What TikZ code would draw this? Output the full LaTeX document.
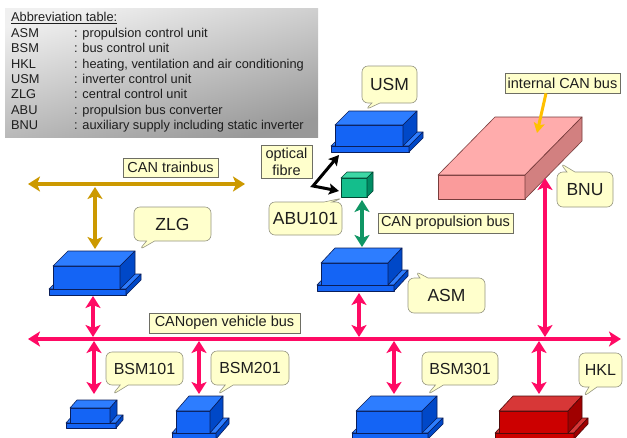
\documentclass[tikz,border=0pt]{standalone}
\usepackage{fontspec}
\setmainfont{Liberation Sans}
\usetikzlibrary{arrows.meta,shapes.callouts}

\definecolor{busPink}{RGB}{255,10,100}
\definecolor{trainGold}{RGB}{204,153,0}
\definecolor{propGreen}{RGB}{16,150,100}
\definecolor{arrowYellow}{RGB}{255,192,0}
\definecolor{noteYellow}{RGB}{255,255,204}
\definecolor{noteBorder}{RGB}{150,150,130}
\definecolor{tagBorder}{RGB}{110,110,100}
\definecolor{txt}{RGB}{30,30,30}
\definecolor{devBfront}{RGB}{20,100,245}
\definecolor{devBtop}{RGB}{45,125,255}
\definecolor{devBside}{RGB}{0,72,200}
\definecolor{devBedge}{RGB}{10,30,90}
\definecolor{devRfront}{RGB}{204,0,0}
\definecolor{devRtop}{RGB}{215,55,55}
\definecolor{devRside}{RGB}{160,0,0}
\definecolor{devRedge}{RGB}{80,10,10}
\definecolor{devGfront}{RGB}{20,190,140}
\definecolor{devGtop}{RGB}{60,215,165}
\definecolor{devGside}{RGB}{0,140,100}
\definecolor{devGedge}{RGB}{0,70,50}
\definecolor{devPfront}{RGB}{250,155,155}
\definecolor{devPtop}{RGB}{255,172,172}
\definecolor{devPside}{RGB}{210,128,128}
\definecolor{devPedge}{RGB}{120,60,60}

\tikzset{
  headtip/.tip={Stealth[length=12pt,width=15pt,inset=3pt]},
  bigarrow/.style={line width=4.5pt,headtip-headtip},
  pinkarrow/.style={bigarrow,draw=busPink},
  goldarrow/.style={bigarrow,line width=4pt,draw=trainGold},
  greenarrow/.style={bigarrow,draw=propGreen},
  fibrearrow/.style={line width=3pt,draw=black,line join=miter,
    {Stealth[length=10pt,width=11pt,inset=2pt]}-{Stealth[length=10pt,width=11pt,inset=2pt]}},
  notearrow/.style={line width=3pt,draw=arrowYellow,-{Stealth[length=10pt,width=11pt,inset=2pt]}},
  note/.style={rectangle callout,rounded corners=6pt,fill=noteYellow,draw=noteBorder,
    line width=0.6pt,inner sep=2pt,callout pointer width=8pt,text=txt},
  noteBig/.style={note,font=\fontsize{17.5pt}{20pt}\selectfont},
  noteSmall/.style={note,font=\fontsize{16pt}{19pt}\selectfont},
  tag/.style={rectangle,fill=noteYellow,draw=tagBorder,line width=0.7pt,inner sep=1pt,
    text=txt,font=\fontsize{14.5pt}{17pt}\selectfont,align=center},
  tabtext/.style={anchor=base west,inner sep=0pt,text=txt,font=\fontsize{12.8pt}{15pt}\selectfont},
  face/.style={line width=0.6pt,line join=round},
}

% x1, x2, ytop, ybottom, dx, dy, colour prefix, slab thickness
\newcommand{\devbox}[8]{%
  \filldraw[face,fill=#7top,draw=#7edge] ({#1-4},{#4}) -- ({#2+6},{#4}) -- ({#2+6+#5},{#4-#6}) -- ({#1-4+#5},{#4-#6}) -- cycle;
  \filldraw[face,fill=#7front,draw=#7edge] ({#1-4},{#4}) rectangle ({#2+6},{#4+#8});
  \filldraw[face,fill=#7side,draw=#7edge] ({#2+6},{#4}) -- ({#2+6+#5},{#4-#6}) -- ({#2+6+#5},{#4-#6+#8}) -- ({#2+6},{#4+#8}) -- cycle;
  \filldraw[face,fill=#7front,draw=#7edge] (#1,#3) rectangle (#2,#4);
  \filldraw[face,fill=#7top,draw=#7edge] (#1,#3) -- (#2,#3) -- ({#2+#5},{#3-#6}) -- ({#1+#5},{#3-#6}) -- cycle;
  \filldraw[face,fill=#7side,draw=#7edge] (#2,#3) -- ({#2+#5},{#3-#6}) -- ({#2+#5},{#4-#6}) -- (#2,#4) -- cycle;
}
% plain prism: x1, x2, ytop, ybottom, dx, dy, colour prefix
\newcommand{\devprism}[7]{%
  \filldraw[face,fill=#7front,draw=#7edge] (#1,#3) rectangle (#2,#4);
  \filldraw[face,fill=#7top,draw=#7edge] (#1,#3) -- (#2,#3) -- ({#2+#5},{#3-#6}) -- ({#1+#5},{#3-#6}) -- cycle;
  \filldraw[face,fill=#7side,draw=#7edge] (#2,#3) -- ({#2+#5},{#3-#6}) -- ({#2+#5},{#4-#6}) -- (#2,#4) -- cycle;
}

\begin{document}
\begin{tikzpicture}[x=1pt,y=-1pt]
\useasboundingbox (0,0) rectangle (627,437);
\fill[white] (0,0) rectangle (627,437);

% abbreviation table
\shade[top color=black!6,bottom color=black!40,shading angle=15] (5,8) rectangle (318,137);
\node[tabtext] (tabHead) at (11,21.5) {\underline{Abbreviation table:}};
\node[tabtext] (tabA1) at (11,37.5) {ASM};  \node[tabtext] (tabB1) at (74,37.5) {: propulsion control unit};
\node[tabtext] (tabA2) at (11,52.8) {BSM};  \node[tabtext] (tabB2) at (74,52.8) {: bus control unit};
\node[tabtext] (tabA3) at (11,68.1) {HKL};  \node[tabtext] (tabB3) at (74,68.1) {: heating, ventilation and air conditioning};
\node[tabtext] (tabA4) at (11,83.4) {USM};  \node[tabtext] (tabB4) at (74,83.4) {: inverter control unit};
\node[tabtext] (tabA5) at (11,98.7) {ZLG};  \node[tabtext] (tabB5) at (74,98.7) {: central control unit};
\node[tabtext] (tabA6) at (11,114) {ABU};   \node[tabtext] (tabB6) at (74,114) {: propulsion bus converter};
\node[tabtext] (tabA7) at (11,129.3) {BNU}; \node[tabtext] (tabB7) at (74,129.3) {: auxiliary supply including static inverter};

% devices
\devbox{335}{403}{125}{146}{14}{14}{devB}{6}   % USM
\devbox{53}{120}{266}{289}{15}{15}{devB}{6}    % ZLG
\devbox{321}{388}{263}{285}{14}{15}{devB}{6}   % ASM
\devbox{70}{110}{408}{423}{7}{8}{devB}{5}      % BSM101
\devbox{176}{210}{411}{433}{13}{15}{devB}{6}   % BSM201
\devbox{356}{422}{411}{433}{15}{15}{devB}{6}   % BSM301
\devbox{499}{568}{411}{433}{14}{15}{devR}{6}   % HKL
\devprism{341}{367}{178}{197}{6}{6}{devG}      % ABU101
\devprism{438}{525}{175}{199}{57}{58}{devP}    % BNU

% connector end points
\coordinate (tbL) at (28,184);
\coordinate (tbR) at (245,184);
\coordinate (tbJ) at (95,187);
\coordinate (zlgTop) at (95,249);
\coordinate (busL) at (28,339);
\coordinate (busR) at (621,339);
\coordinate (zlgBot) at (93,296);
\coordinate (busZlgUp) at (93,337);
\coordinate (busZlgDn) at (94,341);
\coordinate (bsmAtop) at (94,394);
\coordinate (busBsmB) at (199,341);
\coordinate (bsmBtop) at (199,394);
\coordinate (asmBot) at (359,293);
\coordinate (busAsm) at (359,337);
\coordinate (busBsmC) at (394,341);
\coordinate (bsmCtop) at (394,394);
\coordinate (busHkl) at (539,341);
\coordinate (hklTop) at (539,394);
\coordinate (bnuBot) at (545,178);
\coordinate (busBnu) at (545,337);
\coordinate (asmTop) at (362,247);
\coordinate (abuBot) at (362,200);
\coordinate (usmBase) at (339,155);
\coordinate (fibreBend) at (313,186);
\coordinate (abuSide) at (339,191);
\coordinate (bnuTopFace) at (537,133);

% buses and arrows
\draw[goldarrow] (tbL) -- (tbR);
\draw[goldarrow] (tbJ) -- (zlgTop);
\draw[pinkarrow] (busL) -- (busR);
\draw[pinkarrow] (zlgBot) -- (busZlgUp);
\draw[pinkarrow] (busZlgDn) -- (bsmAtop);
\draw[pinkarrow] (busBsmB) -- (bsmBtop);
\draw[pinkarrow] (asmBot) -- (busAsm);
\draw[pinkarrow] (busBsmC) -- (bsmCtop);
\draw[pinkarrow] (busHkl) -- (hklTop);
\draw[pinkarrow] (bnuBot) -- (busBnu);
\draw[greenarrow] (abuBot) -- (asmTop);
\draw[fibrearrow] (usmBase) -- (fibreBend) -- (abuSide);

% labels
\node[tag,minimum width=95pt,minimum height=19pt] (trainLbl) at (170.5,167.5) {CAN trainbus};
\node[tag,minimum width=51pt,minimum height=33pt] (fibreLbl) at (286.5,161.5) {optical\\fibre};
\node[tag,minimum width=135pt,minimum height=20pt] (propLbl) at (445.5,223) {CAN propulsion bus};
\node[tag,minimum width=115pt,minimum height=20pt] (intLbl) at (562.5,83) {internal CAN bus};
\node[tag,minimum width=151pt,minimum height=20pt] (openLbl) at (224.5,323) {CANopen vehicle bus};
\draw[notearrow] (intLbl.south -| 546,0) -- (bnuTopFace);

% callouts
\coordinate (usmTip) at (365,110);
\coordinate (zlgTip) at (139,250);
\coordinate (abuTip) at (343,198);
\coordinate (asmTip) at (415,271);
\coordinate (bnuTip) at (560,163);
\coordinate (bsmATip) at (112,395);
\coordinate (bsmBTip) at (217,395);
\coordinate (bsmCTip) at (427,395);
\coordinate (hklTip) at (583,397);
\node[noteBig,minimum width=55pt,minimum height=37pt,callout absolute pointer={(usmTip)}] (usmNote) at (389.5,84.5) {USM};
\node[noteBig,minimum width=77pt,minimum height=34pt,callout absolute pointer={(zlgTip)}] (zlgNote) at (172.5,224) {ZLG};
\node[noteBig,minimum width=73pt,minimum height=33pt,callout absolute pointer={(abuTip)}] (abuNote) at (305.5,218.5) {ABU101};
\node[noteBig,minimum width=77pt,minimum height=35pt,callout absolute pointer={(asmTip)}] (asmNote) at (446.5,295.5) {ASM};
\node[noteBig,minimum width=56pt,minimum height=35pt,callout absolute pointer={(bnuTip)}] (bnuNote) at (585,189.5) {BNU};
\node[noteSmall,minimum width=77pt,minimum height=33pt,callout absolute pointer={(bsmATip)}] (bsmANote) at (144.5,368.5) {BSM101};
\node[noteSmall,minimum width=78pt,minimum height=34pt,callout absolute pointer={(bsmBTip)}] (bsmBNote) at (250,368) {BSM201};
\node[noteSmall,minimum width=76pt,minimum height=33pt,callout absolute pointer={(bsmCTip)}] (bsmCNote) at (460,368.5) {BSM301};
\node[noteSmall,minimum width=43pt,minimum height=34pt,callout absolute pointer={(hklTip)}] (hklNote) at (600.5,370) {HKL};
\end{tikzpicture}
\end{document}
